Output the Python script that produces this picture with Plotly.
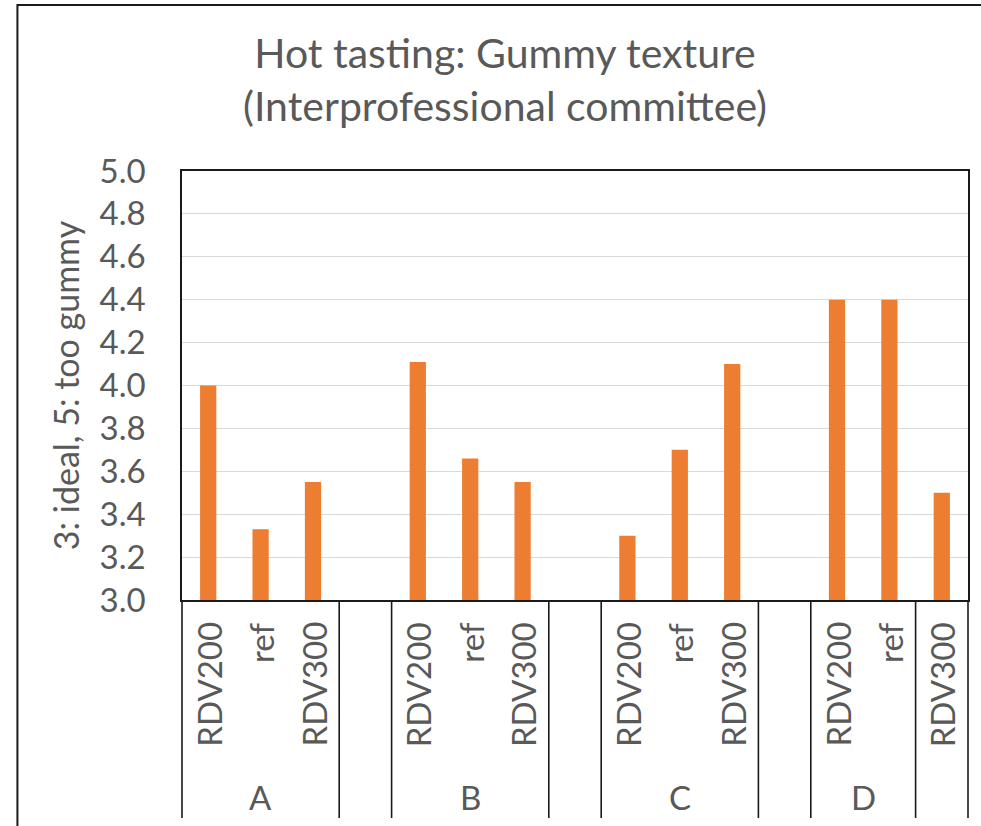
import plotly.graph_objects as go

# ---- data ----
group_names = ["A", "", "B", "", "C", "", "D", ""]
group_items = [
    ["RDV200", "ref", "RDV300"],
    [""],
    ["RDV200", "ref", "RDV300"],
    [""],
    ["RDV200", "ref", "RDV300"],
    [""],
    ["RDV200", "ref"],
    ["RDV300"],
]
group_values = [
    [4.00, 3.33, 3.55],
    [None],
    [4.11, 3.66, 3.55],
    [None],
    [3.30, 3.70, 4.10],
    [None],
    [4.40, 4.40],
    [3.50],
]
y_ticks = [3.0, 3.2, 3.4, 3.6, 3.8, 4.0, 4.2, 4.4, 4.6, 4.8, 5.0]
y_tick_labels = [f"{v:.1f}" for v in y_ticks]

title_text = "Hot tasting: Gummy texture<br>(Interprofessional committee)"
y_title = "3: ideal, 5: too gummy"

# ---- styling ----
FONT = "Lato"
TXT = "#595959"
BAR = "#ED7D31"
W, H = 981, 826
ML, MR, MT, MB = 182, 11, 171, 226
PW, PH = W - ML - MR, H - MT - MB


def px_x(p):
    return (p - ML) / PW


def px_y(p):
    return ((H - MB) - p) / PH


x_ids, x_labels, y_vals = [], [], []
group_spans = []
for gi, (items, vals) in enumerate(zip(group_items, group_values)):
    start = len(x_ids)
    for j, (lab, v) in enumerate(zip(items, vals)):
        x_ids.append(f"g{gi}_{j}")
        x_labels.append(lab)
        y_vals.append(v)
    group_spans.append((start, len(x_ids) - 1))
n = len(x_ids)

fig = go.Figure(go.Bar(x=x_ids, y=y_vals, marker=dict(color=BAR, line=dict(width=0)),
                       hoverinfo="y"))

annotations = [dict(text=title_text, x=px_x(506), xref="paper", xanchor="center",
                    y=px_y(79), yref="paper", yanchor="middle", showarrow=False,
                    font=dict(family=FONT, size=41, color=TXT))]
for xid, lab in zip(x_ids, x_labels):
    if lab:
        annotations.append(dict(x=xid, xref="x", y=0, yref="paper", yanchor="top",
                                xanchor="center", yshift=-20, text=lab, textangle=-90,
                                showarrow=False, font=dict(family=FONT, size=33, color=TXT)))
for name, (s, e) in zip(group_names, group_spans):
    if name:
        annotations.append(dict(x=(s + e) / 2, xref="x", y=0, yref="paper", yanchor="middle",
                                xanchor="center", yshift=-197, text=name, showarrow=False,
                                font=dict(family=FONT, size=33, color=TXT)))

shapes = []
bounds = sorted(set([s for s, e in group_spans] + [e + 1 for s, e in group_spans]))
for b in bounds:
    xp = b / n
    shapes.append(dict(type="line", xref="paper", yref="paper", x0=xp, x1=xp,
                       y0=0, y1=px_y(818), line=dict(color="#1a1a1a", width=1.6)))
# chart-area outline
shapes.append(dict(type="rect", xref="paper", yref="paper",
                   x0=px_x(17), x1=px_x(W + 20), y0=px_y(H + 20), y1=px_y(5),
                   line=dict(color="#1a1a1a", width=2), layer="below"))

fig.update_layout(
    width=W, height=H,
    margin=dict(l=ML, r=MR, t=MT, b=MB),
    paper_bgcolor="white", plot_bgcolor="white",
    font=dict(family=FONT, color=TXT),
    bargap=0.69,
    showlegend=False,
    xaxis=dict(type="category", range=[-0.5, n - 0.5], showticklabels=False, ticks="",
               showgrid=False, showline=True, linecolor="#1a1a1a", linewidth=1.6, mirror=True,
               fixedrange=True),
    yaxis=dict(range=[3, 5], tickvals=y_ticks, ticktext=y_tick_labels, ticks="",
               showgrid=True, gridcolor="#D9D9D9", gridwidth=1, zeroline=False,
               showline=True, linecolor="#1a1a1a", linewidth=1.6, mirror=True,
               tickfont=dict(family=FONT, size=33, color=TXT), ticklabelstandoff=28,
               title=dict(text=y_title, standoff=10, font=dict(family=FONT, size=34, color=TXT)),
               fixedrange=True),
    annotations=annotations,
    shapes=shapes,
)

fig.write_html("out.html", config={"displayModeBar": False},
               post_script="document.body.style.margin='0';document.body.style.padding='0';")
